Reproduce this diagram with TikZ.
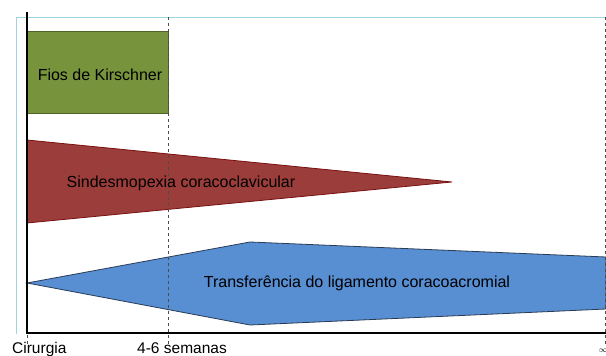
\documentclass[tikz,border=0pt]{standalone}
\usepackage{fontspec}
\setmainfont{Liberation Sans}
\usetikzlibrary{calc}
\definecolor{fiosgreen}{HTML}{77933C}
\definecolor{fiosedge}{HTML}{4F6228}
\definecolor{sindred}{HTML}{9B3D3B}
\definecolor{sindedge}{HTML}{7A1010}
\definecolor{transfblue}{HTML}{588ED2}
\definecolor{transfedge}{HTML}{2A3B55}
\definecolor{framecol}{HTML}{9DD3E0}

\begin{document}
\begin{tikzpicture}[x=1pt,y=-1pt,
    lbl/.style={font=\fontsize{16}{19}\selectfont, inner sep=0pt},
    tick/.style={draw=black!70, dashed, line width=0.5pt},
    axis/.style={line width=2.6pt},
    bar/.style={line width=0.8pt}
    ]
    \useasboundingbox (0,0) rectangle (606,356);
    \draw[framecol, line width=1pt] (16,334) -- (16,17) -- (606,17);
    % bars
    \node[bar, draw=fiosedge, fill=fiosgreen, anchor=north west,
      minimum width=141pt, minimum height=82pt, lbl] (fios) at (27,31) {};
    \draw[bar, draw=sindedge, fill=sindred] (27,140) -- (452,182) -- (27,223) -- cycle;
    \draw[bar, draw=transfedge, fill=transfblue] (27,283) -- (250,242) -- (606,257)
      -- (606,309) -- (250,325) -- cycle;
    % time marks
    \foreach \x in {27,168,605}
      \draw[tick] (\x,17) -- (\x,346);
    \node[lbl] (fiostxt) at (100,75) {Fios de Kirschner};
    \node[lbl] (sind) at (181,183) {Sindesmopexia coracoclavicular};
    \node[lbl] (transf) at (357,283) {Transferência do ligamento coracoacromial};
    % axes
    \coordinate (top) at (27,12);
    \coordinate (orig) at (27,333);
    \coordinate (end) at (606,333);
    \draw[axis] (top) -- (orig) -- (end);
    \node[lbl, anchor=base west, font=\fontsize{15.5}{18}\selectfont] (cir) at (12,353) {Cirurgia};
    \node[lbl, anchor=base west, font=\fontsize{15.5}{18}\selectfont] (sem) at (137,353) {4-6 semanas};
    \node[inner sep=0pt, font=\fontsize{8}{9}\selectfont] (inf) at (603,351) {$\infty$};
\end{tikzpicture}
\end{document}
